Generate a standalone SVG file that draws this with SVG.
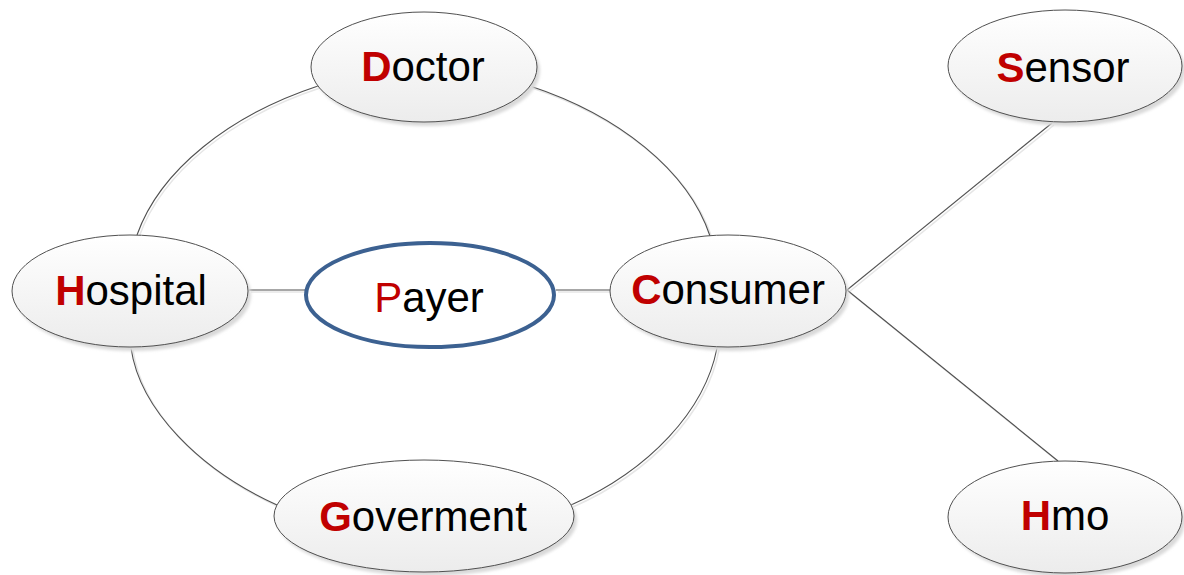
<svg xmlns="http://www.w3.org/2000/svg" width="1184" height="575" viewBox="0 0 1184 575">
  <defs>
    <linearGradient id="nodeFill" x1="0" y1="0" x2="0" y2="1">
      <stop offset="0" stop-color="#ffffff"/>
      <stop offset="1" stop-color="#ececec"/>
    </linearGradient>
    <filter id="soft" x="-10%" y="-10%" width="120%" height="130%">
      <feGaussianBlur stdDeviation="1.5"/>
    </filter>
    <style>
      .node { fill: url(#nodeFill); stroke: #505050; stroke-width: 1; }
      .shadow { fill: #d9d9d9; filter: url(#soft); }
      .payer { fill: #ffffff; stroke: #3c6191; stroke-width: 4; }
      .conn { fill: none; stroke: #505050; stroke-width: 1.1; }
      .connShadow { fill: none; stroke: #e6e6e6; stroke-width: 1.5; }
      .label { font-family: "Liberation Sans", Arial, sans-serif; font-size: 42px; fill: #000000; text-anchor: middle; }
      .init { fill: #c00000; font-weight: bold; }
      .initPlain { fill: #c00000; }
    </style>
  </defs>

  <g id="connectors">
    <g transform="translate(2,2)">
      <path class="connShadow" d="M318,86 C230,115 160,170 137,235"/>
      <path class="connShadow" d="M530,86 C618,115 688,170 710,236"/>
      <path class="connShadow" d="M131,348 C140,410 200,470 277,505"/>
      <path class="connShadow" d="M717,348 C705,410 650,470 571,505"/>
      <path class="connShadow" d="M249,290 L305,290"/>
      <path class="connShadow" d="M556,290 L610,290"/>
      <path class="connShadow" d="M847,290 L1052,123"/>
      <path class="connShadow" d="M847,290 L1058,461"/>
    </g>
    <path class="conn" d="M318,86 C230,115 160,170 137,235"/>
    <path class="conn" d="M530,86 C618,115 688,170 710,236"/>
    <path class="conn" d="M131,348 C140,410 200,470 277,505"/>
    <path class="conn" d="M717,348 C705,410 650,470 571,505"/>
    <path class="conn" d="M249,290 L305,290"/>
    <path class="conn" d="M556,290 L610,290"/>
    <path class="conn" d="M847,290 L1052,123"/>
    <path class="conn" d="M847,290 L1058,461"/>
  </g>

  <g id="node-doctor">
    <ellipse class="shadow" cx="427" cy="71" rx="113" ry="55"/>
    <ellipse class="node" cx="424" cy="67" rx="113" ry="55"/>
    <text class="label" x="423" y="81"><tspan class="init">D</tspan>octor</text>
  </g>

  <g id="node-sensor">
    <ellipse class="shadow" cx="1068" cy="70" rx="117" ry="56"/>
    <ellipse class="node" cx="1065" cy="66" rx="117" ry="56"/>
    <text class="label" x="1063" y="82"><tspan class="init">S</tspan>ensor</text>
  </g>

  <g id="node-hospital">
    <ellipse class="shadow" cx="133" cy="295" rx="118" ry="56"/>
    <ellipse class="node" cx="130" cy="291" rx="118" ry="56"/>
    <text class="label" x="131" y="305"><tspan class="init">H</tspan>ospital</text>
  </g>

  <g id="node-payer">
    <ellipse class="payer" cx="430" cy="295" rx="124" ry="52"/>
    <text class="label" x="429" y="312"><tspan class="initPlain">P</tspan>ayer</text>
  </g>

  <g id="node-consumer">
    <ellipse class="shadow" cx="731" cy="295" rx="118" ry="56"/>
    <ellipse class="node" cx="728" cy="291" rx="118" ry="56"/>
    <text class="label" x="728" y="304"><tspan class="init">C</tspan>onsumer</text>
  </g>

  <g id="node-goverment">
    <ellipse class="shadow" cx="427" cy="520" rx="150" ry="56"/>
    <ellipse class="node" cx="424" cy="516" rx="150" ry="56"/>
    <text class="label" x="423" y="531"><tspan class="init">G</tspan>overment</text>
  </g>

  <g id="node-hmo">
    <ellipse class="shadow" cx="1068" cy="521" rx="117" ry="56"/>
    <ellipse class="node" cx="1065" cy="517" rx="117" ry="56"/>
    <text class="label" x="1065" y="530"><tspan class="init">H</tspan>mo</text>
  </g>
</svg>
